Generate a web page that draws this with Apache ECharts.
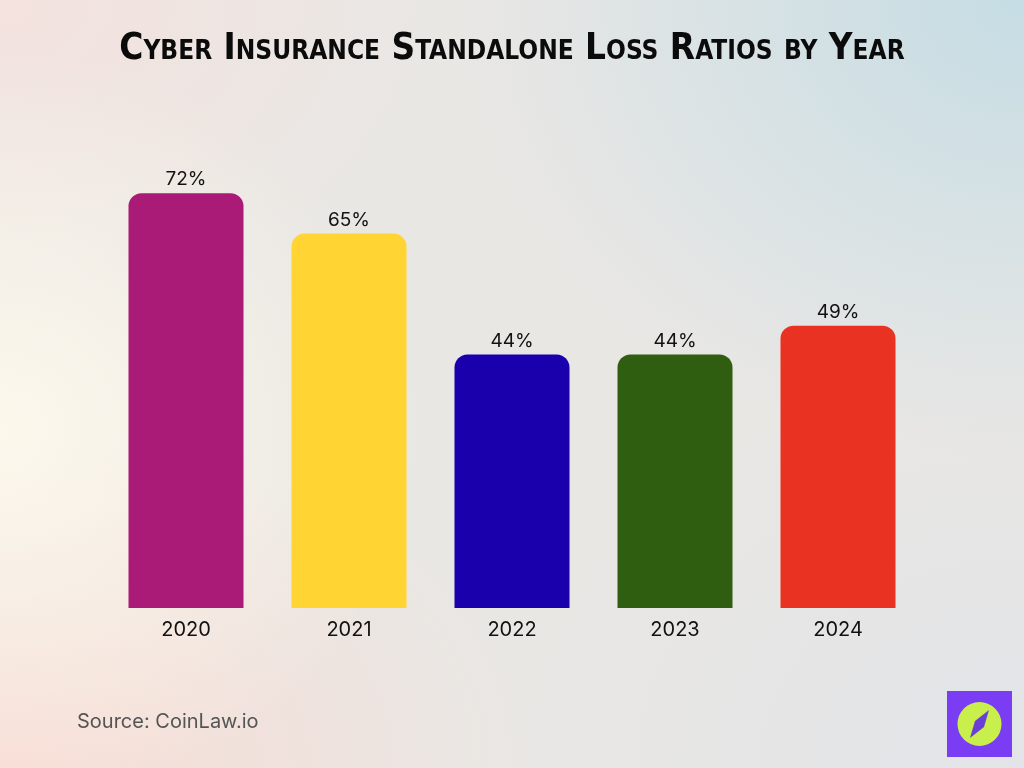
<!DOCTYPE html>
<html>
<head>
<meta charset="utf-8">
<script src="https://cdn.jsdelivr.net/npm/echarts@6/dist/echarts.min.js"></script>
<style>
  html, body { margin: 0; padding: 0; }
  body {
    width: 1024px; height: 768px; overflow: hidden;
    background:
      radial-gradient(ellipse 560px 460px at 1024px 0px, rgba(196,220,228,0.95), rgba(196,220,228,0) 100%),
      radial-gradient(ellipse 420px 380px at 0px 430px, rgba(253,248,236,1), rgba(253,248,236,0) 100%),
      radial-gradient(ellipse 520px 360px at 0px 768px, rgba(248,220,212,1), rgba(248,220,212,0) 100%),
      radial-gradient(ellipse 420px 300px at 0px 0px, rgba(244,226,222,1), rgba(244,226,222,0) 100%),
      radial-gradient(ellipse 500px 400px at 1024px 768px, rgba(226,228,232,1), rgba(226,228,232,0) 100%),
      #e9e7e4;
  }
  #chart { width: 1024px; height: 768px; }
</style>
</head>
<body>
<div id="chart"></div>
<script>
var title = 'Cyber Insurance Standalone Loss Ratios by Year';
var years = ['2020', '2021', '2022', '2023', '2024'];
var lossRatios = [72, 65, 44, 44, 49];
var barColors = ['#a91b77', '#ffd433', '#1a00ad', '#2f5e10', '#e93222'];

var chart = echarts.init(document.getElementById('chart'));

chart.setOption({
    backgroundColor: 'transparent',
    animation: false,
    title: {
        text: title,
        left: 'center',
        top: 26,
        textStyle: {
            fontFamily: '"DejaVu Sans Condensed", sans-serif',
            fontStyle: 'small-caps',
            fontWeight: 'bold',
            fontSize: 36.5,
            color: '#0b0b0b'
        }
    },
    grid: { left: 104.5, right: 104.5, top: 147.2, bottom: 160 },
    xAxis: {
        type: 'category',
        data: years,
        axisLine: { show: false },
        axisTick: { show: false },
        axisLabel: {
            margin: 12,
            fontFamily: 'Inter, "Noto Sans", sans-serif',
            fontSize: 20,
            color: '#111'
        }
    },
    yAxis: {
        type: 'value',
        min: 0,
        max: 80,
        show: false,
        splitLine: { show: false }
    },
    series: [{
        type: 'bar',
        barWidth: 115,
        data: lossRatios.map(function (v, i) {
            return { value: v, itemStyle: { color: barColors[i] } };
        }),
        itemStyle: { borderRadius: [13, 13, 0, 0] },
        label: {
            show: true,
            position: 'top',
            distance: 4,
            formatter: '{c}%',
            fontFamily: 'Inter, "Noto Sans", sans-serif',
            fontSize: 19,
            color: '#111'
        }
    }],
    graphic: [
        {
            type: 'text',
            left: 77,
            top: 712,
            style: {
                text: 'Source: CoinLaw.io',
                fontFamily: 'Inter, "Noto Sans", sans-serif',
                fontSize: 20,
                fill: '#555'
            }
        },
        {
            type: 'rect',
            shape: { x: 947, y: 691, width: 65, height: 66 },
            style: { fill: '#7a3df4' }
        },
        {
            type: 'circle',
            shape: { cx: 979.5, cy: 724, r: 22 },
            style: { fill: '#c8ef4b' }
        },
        {
            type: 'polygon',
            shape: { points: [[989, 710], [984, 727], [970, 738], [975, 721]] },
            style: { fill: '#6b3fd6' }
        }
    ]
});
</script>
</body>
</html>
